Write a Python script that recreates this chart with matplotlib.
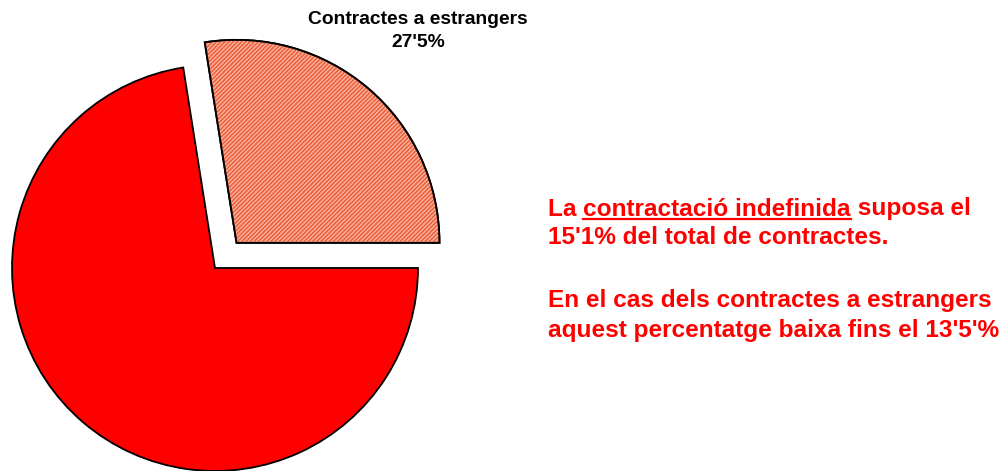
import numpy as np
import matplotlib as mpl
mpl.use('Agg')
import matplotlib.pyplot as plt
from matplotlib.lines import Line2D
from matplotlib.patches import Wedge

plt.rcParams['font.family'] = ['Liberation Sans', 'DejaVu Sans']

# data
labels = ["Contractes a estrangers", "Altres contractes"]
shares = [27.5, 72.5]
label_text = "Contractes a estrangers\n27'5%"
note_lines = [
    ("La ", "contractació indefinida", " suposa el"),
    ("15'1% del total de contractes.", "", ""),
    ("En el cas dels contractes a estrangers", "", ""),
    ("aquest percentatge baixa fins el 13'5'%", "", ""),
]

W, H = 1006, 471
fig = plt.figure(figsize=(W / 100, H / 100), dpi=100)
ax = fig.add_axes([0, 0, 1, 1])
R = 203.0
cx, cy = 215.0, H - 268.0

wedges, _ = ax.pie(shares, startangle=0, counterclock=True,
                   explode=[0.163, 0], radius=1.0,
                   colors=['#f7b09a', '#ff0000'],
                   wedgeprops=dict(edgecolor='black', linewidth=1.3))
# fine hatch on the foreign-contract slice
hw = wedges[0]
th1, th2 = hw.theta1, hw.theta2
hp = Wedge(hw.center, hw.r, th1, th2, facecolor='none',
           edgecolor='#ec5a36', hatch='////////', linewidth=0)
ax.add_patch(hp)
ax.add_patch(Wedge(hw.center, hw.r, th1, th2, facecolor='none',
                   edgecolor='black', linewidth=1.3))

ax.set_xlim(-cx / R, (W - cx) / R)
ax.set_ylim(-cy / R, (H - cy) / R)
ax.set_aspect('equal')
ax.axis('off')

fig.text(418 / W, 1 - 31 / H, label_text, ha='center', va='center',
         fontsize=13.9, fontweight='bold', linespacing=1.5)

renderer = fig.canvas.get_renderer()
x0 = 548 / W
fs = 17.6
ys = [209, 238, 301, 330]
for (a, b, c), yp in zip(note_lines, ys):
    y = 1 - yp / H
    t = fig.text(x0, y, a, color='#ff0000', fontsize=fs, fontweight='bold',
                 va='center', ha='left')
    if not b:
        continue
    ext = t.get_window_extent(renderer)
    tb = fig.text(ext.x1 / W, y, b, color='#ff0000', fontsize=fs,
                  fontweight='bold', va='center', ha='left')
    eb = tb.get_window_extent(renderer)
    fig.add_artist(Line2D([eb.x0 / W, eb.x1 / W], [(eb.y0 + 2) / H] * 2,
                          color='#ff0000', linewidth=1.6,
                          transform=fig.transFigure))
    fig.text(eb.x1 / W, y, c, color='#ff0000', fontsize=fs,
             fontweight='bold', va='center', ha='left')

fig.savefig('out.png', dpi=100)
